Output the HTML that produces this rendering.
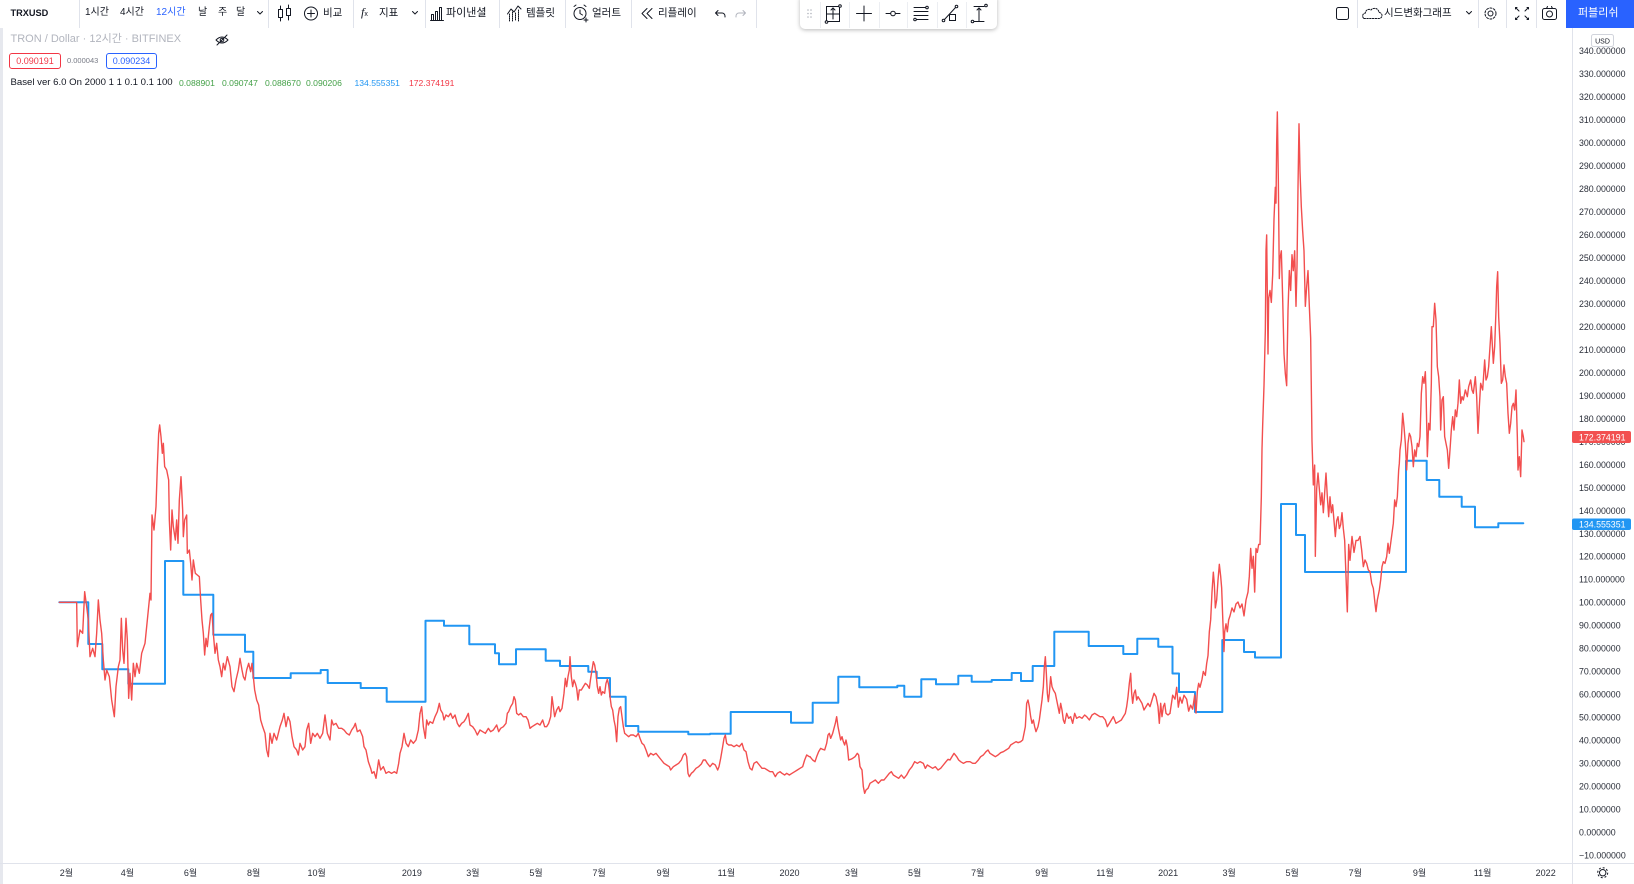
<!DOCTYPE html>
<html><head><meta charset="utf-8">
<style>
html,body{margin:0;padding:0}
body{width:1634px;height:884px;overflow:hidden;background:#fff;position:relative;font-family:"Liberation Sans","Noto Sans CJK KR",sans-serif;color:#131722}
.a{position:absolute;white-space:nowrap;line-height:1}
.tb{font-size:10.5px;top:8px}
.box{position:absolute;top:53px;height:14px;border:1px solid;border-radius:3px;font-size:9px;line-height:14px;text-align:center}
</style></head><body>

<!-- left border strip -->
<div class="a" style="left:0;top:28px;width:3px;height:856px;background:#e6e8ee"></div>

<svg class="a" style="left:0;top:0" width="1634" height="884">
<defs><clipPath id="c"><rect x="4" y="28" width="1568" height="835"/></clipPath></defs>
<!-- axes lines -->
<line x1="1572.5" y1="28" x2="1572.5" y2="884" stroke="#e0e3eb" stroke-width="1"/>
<line x1="0" y1="863.5" x2="1634" y2="863.5" stroke="#e0e3eb" stroke-width="1"/>
<g clip-path="url(#c)" fill="none" stroke-linejoin="round" stroke-linecap="round">
<path stroke="#2196f3" stroke-width="2" d="M59.3,602.3 H88.3 V644 H102.3 V669.3 H128.3 V683.7 H165 V561 H183.3 V594.7 H213.3 V634.7 H245 V651.7 H253.3 V678 H290.7 V673.3 H320.7 V670 H327.7 V683 H360.7 V688 H386.7 V701.7 H425.5 V620.7 H444 V625.7 H469.3 V644.3 H495 V653.3 H499 V664.3 H516 V649.3 H545.7 V660.7 H560 V666 H588.3 V671.7 H596.7 V678 H610 V696.7 H625.7 V726 H638.3 V731.7 H688.3 V734.3 H710 V733.7 H730.7 V712 H791 V722.7 H812.7 V702.7 H838.3 V676.7 H859.3 V687.3 H897.3 V685.7 H904.3 V696.7 H921.3 V679.3 H936 V684.3 H958.3 V675.7 H971.7 V681.7 H991.7 V680 H1011.7 V673 H1021 V681 H1032.7 V666 H1054.3 V631.7 H1088.7 V646 H1123.3 V654 H1137.3 V638.7 H1158.3 V646.7 H1172.5 V673.5 H1179 V692 H1195 V712 H1222.3 V640 H1244 V652 H1255 V657.5 H1281 V504 H1296 V535 H1305 V572 H1406 V460.7 H1426.7 V480 H1439.3 V496.7 H1461.7 V506.7 H1475 V527.3 H1498.3 V523.3 H1523.3"/>
<g stroke="#f24e4e" stroke-width="1.4">
<g transform="translate(50,400) scale(0.333333)"><polyline vector-effect="non-scaling-stroke" points="28,607 80,607 82,740 90,690 98,700 104,575 110,620 115,660 120,770 128,745 135,770 140,700 145,600 150,660 155,700 160,780 165,840 170,810 178,830 185,900 193,950 198,860 205,800 210,780 214,655 218,750 222,790 228,655 232,720 236,895 240,820 245,900 250,790 255,830 260,790 268,820 275,760 285,730 290,680 296,620 300,580 303,600 306,345 312,390 318,320 322,200 326,100 329,75 333,110 337,160 340,130 344,200 350,210 356,240 358,360 362,450 366,330 370,380 376,420 380,360 384,430 388,300 393,230 398,330 400,410 404,360 410,345 412,460 418,450 422,490 426,540 430,480 436,520 442,525 448,530 452,600 456,660 460,700 464,765 468,715 472,740 478,680 482,645 486,640 490,700 495,760 500,730 505,780 510,800 515,830 520,790 525,810 532,770 540,800 546,860 552,875 558,840 565,810 570,775 576,810 580,830 585,840 590,810 596,790 602,815 606,790 610,830 614,870 620,900 626,915 632,960 638,980 645,1000 650,1050 655,1070 660,1000 666,1030 672,1000 680,1020 690,980 697,960 702,940 708,980 714,950 720,965 726,1010 732,1040 740,1050 745,1065 750,1030 758,1050 765,1040 770,990 776,970 782,1030 788,1000 795,1010 802,1000 810,1015 818,1000 825,945 832,1000 840,1020 845,960 850,975 858,970 866,985 875,985 882,990 890,1000 898,1005 905,990 912,980 916,970 922,995 930,990 938,1010 942,1040 948,1050 955,1085 962,1105 966,1120 972,1115 978,1135 986,1080 992,1110 1000,1100 1008,1120 1016,1115 1025,1120 1033,1115 1040,1120 1046,1090 1050,1060 1056,1040 1062,1000 1068,1030 1075,1040 1082,1020 1090,1030 1098,1020 1105,990 1110,940"/></g>
<g transform="translate(420,560) scale(0.333333)"><polyline vector-effect="non-scaling-stroke" points="0,460 5,440 10,500 16,535 20,480 25,495 30,485 38,490 45,470 52,455 58,430 62,450 68,460 72,480 78,465 85,470 92,460 98,475 105,465 112,490 118,500 125,490 132,485 138,475 145,460 150,495 158,500 165,510 172,525 180,510 188,515 196,520 205,505 212,515 220,510 230,495 236,515 242,505 250,500 258,490 262,460 266,455 272,440 278,430 282,410 286,420 290,460 296,465 302,460 310,470 318,470 324,480 330,505 336,500 344,495 352,490 360,495 368,480 374,500 380,500 386,490 392,470 396,410 400,440 404,470 410,450 416,440 420,455 426,445 432,400 436,355 440,380 444,350 448,330 450,290 454,350 458,380 462,360 466,370 470,385 474,420 478,390 484,390 490,380 496,370 502,375 508,385 512,355 516,330 520,305 524,315 528,340 532,380 536,400 540,380 544,405 548,395 554,400 558,370 562,358 566,375 570,410 574,440 578,450 582,480 586,500 590,545 594,470 598,445 602,440 606,470 610,500 614,520 620,525 626,530 632,525 640,525 648,530 655,520 660,535 666,550 672,555 678,570 685,590 692,580 700,585 708,580 716,590 724,600 732,610 740,615 748,620 752,630 760,620 768,615 776,610 784,600 790,585 796,580 800,590 804,640 808,650 814,640 820,635 828,625 836,620 844,612 850,600 856,600 862,610 870,620 878,610 886,615 893,630 897,620 902,595 908,560 912,535 916,525 920,550 926,555 934,555 942,560 950,555 958,560 966,550 972,570 978,575 984,605 990,625 996,630 1002,610 1010,605 1018,615 1026,625 1034,625 1042,630 1050,635 1058,635 1066,650 1072,640 1080,635 1086,640 1094,645 1100,640 1108,645 1116,640 1124,635 1132,630 1140,625 1148,620 1154,600 1160,585 1168,590 1170,590"/></g>
<g transform="translate(810,560) scale(0.333333)"><polyline vector-effect="non-scaling-stroke" points="0,590 8,600 15,605 20,590 26,575 32,565 38,568 44,570 50,550 54,525 58,520 62,535 68,520 72,505 76,490 80,470 84,500 88,520 92,540 96,530 100,545 104,555 108,540 112,560 116,600 122,598 128,595 135,590 142,580 146,585 150,620 156,630 160,680 164,700 168,690 174,685 180,670 188,665 196,660 205,670 214,660 222,660 230,650 238,640 244,635 250,645 258,650 266,655 274,645 282,655 290,645 298,630 306,620 314,605 322,610 330,605 340,610 346,625 352,615 360,620 368,625 376,620 384,630 392,625 400,615 408,605 414,598 420,600 426,590 432,580 440,590 446,600 452,605 460,610 470,605 480,605 488,610 496,610 505,600 512,590 520,585 528,575 534,570 540,580 548,585 556,590 564,585 572,578 580,575 588,570 596,565 602,555 610,550 618,545 624,548 632,545 638,540 642,520 646,500 650,430 654,420 658,440 662,470 666,490 670,480 674,500 678,515 684,500 688,480 692,450 696,420 700,380 703,320 706,290 709,340 712,400 715,425 718,400 722,350 726,380 730,390 736,400 740,420 744,440 748,460 752,430 756,450 760,480 764,490 770,460 776,475 782,470 788,490 794,460 800,475 808,470 816,475 824,465 830,470 838,480 846,465 854,460 862,465 870,470 878,470 886,480 892,500 898,490 904,480 910,470 918,490 926,485 934,480 940,470 946,460 950,440 954,410 958,370 962,340 965,400 968,430 972,400 976,390 980,420 984,410 990,420 996,430 1002,450 1008,440 1014,430 1020,440 1026,420 1032,400 1038,410 1044,440 1048,490 1052,430 1056,470 1060,440 1064,430 1068,460 1074,465 1080,460"/></g>
<g transform="translate(1170,100) scale(0.333333,0.396825)"><polyline vector-effect="non-scaling-stroke" points="0,1545 8,1500 15,1510 20,1480 25,1530 30,1505 36,1520 42,1500 50,1510 56,1540 62,1525 68,1535 74,1500 78,1545 82,1490 86,1470 90,1480 96,1460 100,1440 106,1450 110,1420 114,1400 118,1340 122,1310 126,1240 130,1190 133,1220 136,1280 140,1260 144,1210 148,1170 152,1200 155,1230 158,1300 162,1390 164,1340 168,1320 172,1340 176,1310 180,1300 186,1280 192,1290 198,1270 204,1265 210,1280 216,1270 222,1300 228,1260 234,1240 238,1200 242,1130 246,1180 250,1150 254,1240 258,1130 262,1140 266,1120 270,1120 274,1000 276,880 278,820 282,720 286,580 288,380 290,340 294,640 296,500 300,480 304,510 308,440 312,300 316,220 318,260 320,110 322,30 325,200 328,450 330,400 334,380 338,500 342,640 346,690 350,720 354,530 358,430 362,480 366,390 370,430 374,380 378,520 381,420 384,220 387,60 390,180 394,270 398,330 402,380 406,520 410,470 414,430 418,520 422,600 426,860 430,970 434,920 436,1150 440,980 444,940 448,980 452,1020 456,990 460,1040 464,990 468,940 472,1000 476,1050 480,1000 484,1040 488,1020 492,1060 496,1100 500,1060 504,1050 508,1080 512,1070 516,1040 520,1080 524,1110 528,1200 532,1290 536,1120 540,1160 546,1100 552,1140 558,1110 564,1110 570,1100"/></g>
<g transform="translate(1360,250) scale(0.333333)"><polyline vector-effect="non-scaling-stroke" points="0,860 5,900 10,950 15,930 20,940 25,960 30,965 35,1000 40,1015 45,1060 48,1085 52,1050 58,1020 62,990 66,950 70,935 75,940 80,920 84,880 88,910 92,880 96,850 100,820 104,750 108,770 112,740 116,660 118,640 120,600 124,570 128,490 132,530 136,580 140,660 144,580 148,550 152,560 156,590 160,650 164,600 168,620 172,580 176,590 180,560 184,430 188,380 192,400 196,365 198,420 202,620 206,520 210,540 214,400 216,230 220,230 224,160 228,210 232,350 236,380 240,440 242,540 246,450 250,440 254,560 258,580 262,600 266,655 270,600 274,540 278,500 282,540 286,480 290,500 294,460 298,390 302,460 306,440 310,450 316,420 322,440 326,410 332,390 336,420 340,430 346,380 350,440 354,550 358,470 362,400 368,420 374,330 378,390 382,380 386,350 390,290 394,230 400,340 404,290 408,180 410,110 413,65 416,200 420,280 424,400 428,390 432,345 436,380 440,400 444,490 448,550 452,520 456,470 460,460 464,480 468,420 472,560 474,660 478,620 482,680 486,540 490,560 492,575"/></g>
</g>
</g>

<!-- price axis labels -->
<g font-family="Liberation Sans, sans-serif" font-size="8.8" fill="#2a2e39">
<text x="1579" y="54.2">340.000000</text>
<text x="1579" y="77.2">330.000000</text>
<text x="1579" y="100.1">320.000000</text>
<text x="1579" y="123.1">310.000000</text>
<text x="1579" y="146.1">300.000000</text>
<text x="1579" y="169.1">290.000000</text>
<text x="1579" y="192.1">280.000000</text>
<text x="1579" y="215">270.000000</text>
<text x="1579" y="238">260.000000</text>
<text x="1579" y="261">250.000000</text>
<text x="1579" y="284">240.000000</text>
<text x="1579" y="307">230.000000</text>
<text x="1579" y="329.9">220.000000</text>
<text x="1579" y="352.9">210.000000</text>
<text x="1579" y="375.9">200.000000</text>
<text x="1579" y="398.9">190.000000</text>
<text x="1579" y="421.9">180.000000</text>
<text x="1579" y="444.8">170.000000</text>
<text x="1579" y="467.8">160.000000</text>
<text x="1579" y="490.8">150.000000</text>
<text x="1579" y="513.8">140.000000</text>
<text x="1579" y="536.8">130.000000</text>
<text x="1579" y="559.7">120.000000</text>
<text x="1579" y="582.7">110.000000</text>
<text x="1579" y="605.7">100.000000</text>
<text x="1579" y="628.7">90.000000</text>
<text x="1579" y="651.7">80.000000</text>
<text x="1579" y="674.6">70.000000</text>
<text x="1579" y="697.6">60.000000</text>
<text x="1579" y="720.6">50.000000</text>
<text x="1579" y="743.6">40.000000</text>
<text x="1579" y="766.6">30.000000</text>
<text x="1579" y="789.5">20.000000</text>
<text x="1579" y="812.5">10.000000</text>
<text x="1579" y="835.5">0.000000</text>
<text x="1579" y="858.5">−10.000000</text>
</g>
<!-- last value labels -->
<rect x="1572" y="431" width="59" height="12" rx="2" fill="#f25050"/>
<text x="1579" y="440.3" font-family="Liberation Sans, sans-serif" font-size="8.8" fill="#fff">172.374191</text>
<rect x="1572" y="518.5" width="59" height="11.5" rx="2" fill="#2196f3"/>
<text x="1579" y="527.5" font-family="Liberation Sans, sans-serif" font-size="8.8" fill="#fff">134.555351</text>
<!-- USD box -->
<rect x="1591.5" y="34.5" width="22" height="12" rx="2" fill="#fff" stroke="#d1d4dc"/>
<text x="1602.5" y="43.3" text-anchor="middle" font-family="Liberation Sans, sans-serif" font-size="7" fill="#131722">USD</text>

<!-- time axis labels -->
<g font-family="Liberation Sans, Noto Sans CJK KR, sans-serif" font-size="9" fill="#2a2e39" text-anchor="middle">
<text x="66.4" y="876">2월</text>
<text x="127.4" y="876">4월</text>
<text x="190.5" y="876">6월</text>
<text x="253.6" y="876">8월</text>
<text x="316.7" y="876">10월</text>
<text x="411.9" y="876">2019</text>
<text x="472.9" y="876">3월</text>
<text x="536" y="876">5월</text>
<text x="599.1" y="876">7월</text>
<text x="663.3" y="876">9월</text>
<text x="726.4" y="876">11월</text>
<text x="789.5" y="876">2020</text>
<text x="851.6" y="876">3월</text>
<text x="914.7" y="876">5월</text>
<text x="977.8" y="876">7월</text>
<text x="1041.9" y="876">9월</text>
<text x="1105" y="876">11월</text>
<text x="1168.1" y="876">2021</text>
<text x="1229.1" y="876">3월</text>
<text x="1292.2" y="876">5월</text>
<text x="1355.3" y="876">7월</text>
<text x="1419.5" y="876">9월</text>
<text x="1482.6" y="876">11월</text>
<text x="1545.7" y="876">2022</text>
</g>
<!-- bottom gear -->
<g transform="translate(1602.7,872.7)" fill="none" stroke="#131722" stroke-width="1">
<circle r="3.2"/><circle r="5" stroke-dasharray="2 1.9"/>
</g>

<!-- toolbar separators -->
<g stroke="#e0e3eb" stroke-width="1">
<line x1="79.5" y1="0" x2="79.5" y2="28"/><line x1="268.5" y1="0" x2="268.5" y2="28"/>
<line x1="353.5" y1="0" x2="353.5" y2="28"/><line x1="425.5" y1="0" x2="425.5" y2="28"/>
<line x1="499.5" y1="0" x2="499.5" y2="28"/><line x1="565.5" y1="0" x2="565.5" y2="28"/>
<line x1="631.5" y1="0" x2="631.5" y2="28"/><line x1="756.5" y1="0" x2="756.5" y2="28"/>
<line x1="1357.5" y1="0" x2="1357.5" y2="28"/><line x1="1478.5" y1="0" x2="1478.5" y2="28"/>
<line x1="1506.5" y1="0" x2="1506.5" y2="28"/><line x1="1536.5" y1="0" x2="1536.5" y2="28"/>
</g>
<!-- toolbar icons -->
<g fill="none" stroke="#131722" stroke-width="1" stroke-linecap="round" stroke-linejoin="round">
<polyline points="257.5,11.5 260,14 262.5,11.5"/>
<line x1="280.5" y1="6" x2="280.5" y2="21"/><rect x="278.5" y="9.5" width="4" height="8" fill="#fff"/>
<line x1="288.5" y1="5" x2="288.5" y2="20"/><rect x="286.5" y="8.5" width="4" height="7" fill="#fff"/>
<circle cx="311" cy="13.5" r="6.5"/><line x1="311" y1="10" x2="311" y2="17"/><line x1="307.5" y1="13.5" x2="314.5" y2="13.5"/>
<polyline points="412.5,11.5 415,14 417.5,11.5"/>
<line x1="430.5" y1="20.5" x2="443.5" y2="20.5"/>
<rect x="431.5" y="14.5" width="2" height="6"/><rect x="435.5" y="11.5" width="2" height="9"/><rect x="439.5" y="7.5" width="2" height="13"/>
<polyline points="507.5,14 511,9 514,12 518,6 521,9"/>
<g stroke-dasharray="1 1"><line x1="509.5" y1="14" x2="509.5" y2="21"/><line x1="512.5" y1="12" x2="512.5" y2="21"/><line x1="515.5" y1="13" x2="515.5" y2="21"/><line x1="518.5" y1="10" x2="518.5" y2="21"/></g>
<circle cx="580" cy="13.5" r="6"/><polyline points="580,10 580,13.5 582.5,15"/>
<line x1="574" y1="6.5" x2="576" y2="5"/><line x1="586" y1="6.5" x2="584" y2="5"/>
<line x1="586" y1="18" x2="586" y2="22"/><line x1="584" y1="20" x2="588" y2="20"/>
<polyline points="647,8.5 642,13.5 647,18.5"/><polyline points="652,8.5 647,13.5 652,18.5"/>
<path d="M718,10.5 L715.5,13 L718,15.5 M715.5,13 H722 a3,3 0 0 1 3,3 v1"/>
<path stroke="#b2b5be" d="M743,10.5 L745.5,13 L743,15.5 M745.5,13 H739 a3,3 0 0 0 -3,3 v1"/>
<!-- right side -->
<rect x="1336.5" y="7.5" width="12" height="12" rx="2"/>
<path stroke-dasharray="1.5 1.3" d="M1364,18.5 H1379 a3,3 0 0 0 0,-6 a4.5,4.5 0 0 0 -8,-2.5 a3.5,3.5 0 0 0 -5.5,3 a3,3 0 0 0 -1.5,5.5z"/>
<polyline points="1466.5,11.5 1469,14 1471.5,11.5"/>
<circle cx="1490.5" cy="13.5" r="2.5"/><circle cx="1490.5" cy="13.5" r="5.5" stroke-dasharray="2 1.6"/>
<polyline points="1515.5,9 1515.5,7.5 1517,7.5"/><polyline points="1528.5,9 1528.5,7.5 1527,7.5"/>
<polyline points="1515.5,18 1515.5,19.5 1517,19.5"/><polyline points="1528.5,18 1528.5,19.5 1527,19.5"/>
<line x1="1516" y1="8" x2="1519" y2="11"/><line x1="1528" y1="8" x2="1525" y2="11"/>
<line x1="1516" y1="19" x2="1519" y2="16"/><line x1="1528" y1="19" x2="1525" y2="16"/>
<rect x="1542.5" y="8.5" width="14" height="11" rx="2"/><circle cx="1549.5" cy="14" r="3"/><line x1="1546.5" y1="8.5" x2="1547.5" y2="6.5"/><line x1="1552.5" y1="8.5" x2="1551.5" y2="6.5"/>
<!-- eye crossed legend -->
<path d="M216,40 q6,-6 12,0 q-6,6 -12,0z"/><circle cx="222" cy="40" r="1.8"/><line x1="217" y1="45" x2="227" y2="35"/>
</g>
</svg>

<!-- floating drawing toolbar -->
<div class="a" style="left:800px;top:-3px;width:197px;height:32px;background:#fff;border-radius:0 0 5px 5px;box-shadow:0 1px 4px rgba(0,0,0,0.28)"></div>
<svg class="a" style="left:800px;top:0" width="197" height="30">
<g fill="#b2b5be"><circle cx="8" cy="10" r="0.8"/><circle cx="11" cy="10" r="0.8"/><circle cx="8" cy="13.5" r="0.8"/><circle cx="11" cy="13.5" r="0.8"/><circle cx="8" cy="17" r="0.8"/><circle cx="11" cy="17" r="0.8"/></g>
<g stroke="#eceef2"><line x1="20.5" y1="2" x2="20.5" y2="28"/><line x1="49.5" y1="2" x2="49.5" y2="28"/><line x1="79.5" y1="2" x2="79.5" y2="28"/><line x1="107.5" y1="2" x2="107.5" y2="28"/><line x1="137.5" y1="2" x2="137.5" y2="28"/><line x1="166.5" y1="2" x2="166.5" y2="28"/></g>
<g fill="none" stroke="#131722" stroke-width="1" stroke-linecap="round">
<rect x="26.5" y="6.5" width="13" height="15"/><line x1="33" y1="8" x2="33" y2="19"/><polyline points="31,10 33,8 35,10"/><line x1="27" y1="14" x2="39" y2="14"/><circle cx="40" cy="6" r="1.3" fill="#fff"/><circle cx="26.5" cy="22" r="1.3" fill="#fff"/>
<line x1="64" y1="6" x2="64" y2="21"/><line x1="56.5" y1="13.5" x2="71.5" y2="13.5"/>
<line x1="86" y1="13.5" x2="90.5" y2="13.5"/><circle cx="93" cy="13.5" r="2.3"/><line x1="95.5" y1="13.5" x2="100" y2="13.5"/>
<line x1="114" y1="7.5" x2="128" y2="7.5"/><line x1="114" y1="11.5" x2="128" y2="11.5"/><line x1="114" y1="15.5" x2="128" y2="15.5"/><line x1="114" y1="19.5" x2="128" y2="19.5"/><circle cx="115" cy="19.5" r="1.3" fill="#fff"/><circle cx="127" cy="7.5" r="1.3" fill="#fff"/>
<line x1="144" y1="20" x2="156" y2="7"/><circle cx="143.5" cy="20.5" r="1.3" fill="#fff"/><circle cx="156.5" cy="6.5" r="1.3" fill="#fff"/><rect x="149.5" y="14.5" width="6" height="6" fill="#fff"/>
<line x1="174" y1="6.5" x2="184" y2="6.5"/><line x1="174" y1="21.5" x2="184" y2="21.5"/><line x1="179" y1="8" x2="179" y2="21"/><polyline points="177,10 179,8 181,10"/><circle cx="186" cy="5.5" r="1.3" fill="#fff"/><circle cx="172.5" cy="21.5" r="1.3" fill="#fff"/>
</g>
</svg>

<!-- toolbar text -->
<div class="a" style="left:10.5px;top:9px;font-size:9.2px;font-weight:bold">TRXUSD</div>
<div class="a" style="left:85px;top:8px;font-size:10px">1시간</div>
<div class="a" style="left:120px;top:8px;font-size:10px">4시간</div>
<div class="a" style="left:156px;top:8px;font-size:10px;color:#2962ff">12시간</div>
<div class="a" style="left:198px;top:8px;font-size:10px">날</div>
<div class="a" style="left:218px;top:8px;font-size:10px">주</div>
<div class="a" style="left:236px;top:8px;font-size:10px">달</div>
<div class="a" style="left:361px;top:6px;font-size:12px;font-family:'Liberation Serif',serif;font-style:italic">f<span style="font-size:7px;font-style:normal;font-family:'Liberation Sans',sans-serif">x</span></div>
<div class="a tb" style="left:323px">비교</div>
<div class="a tb" style="left:379px">지표</div>
<div class="a tb" style="left:446px;font-size:11px;top:7.5px">파이낸셜</div>
<div class="a tb" style="left:526px">템플릿</div>
<div class="a tb" style="left:592px">얼러트</div>
<div class="a tb" style="left:658px">리플레이</div>
<div class="a tb" style="left:1384px">시드변화그래프</div>
<div class="a" style="left:1566px;top:0;width:68px;height:28px;background:#2962ff"></div>
<div class="a" style="left:1578px;top:7.5px;font-size:11px;color:#fff">퍼블리쉬</div>

<!-- legend -->
<div class="a" style="left:10.5px;top:34px;font-size:11px;color:#b2b5be">TRON / Dollar · 12시간 · BITFINEX</div>
<div class="box" style="left:9px;width:50px;border-color:#f23645;color:#f23645">0.090191</div>
<div class="a" style="left:67px;top:57px;font-size:7.5px;color:#787b86">0.000043</div>
<div class="box" style="left:106px;width:49px;border-color:#2962ff;color:#2962ff">0.090234</div>
<div class="a" style="left:10.5px;top:78px;font-size:9.6px">Basel ver 6.0 On 2000 1 1 0.1 0.1 100</div>
<div class="a" style="left:179px;top:78.5px;font-size:8.6px;color:#43a047">0.088901</div>
<div class="a" style="left:222px;top:78.5px;font-size:8.6px;color:#43a047">0.090747</div>
<div class="a" style="left:265px;top:78.5px;font-size:8.6px;color:#43a047">0.088670</div>
<div class="a" style="left:306px;top:78.5px;font-size:8.6px;color:#43a047">0.090206</div>
<div class="a" style="left:354.5px;top:78.5px;font-size:8.6px;color:#2196f3">134.555351</div>
<div class="a" style="left:409px;top:78.5px;font-size:8.6px;color:#f23645">172.374191</div>

</body></html>
